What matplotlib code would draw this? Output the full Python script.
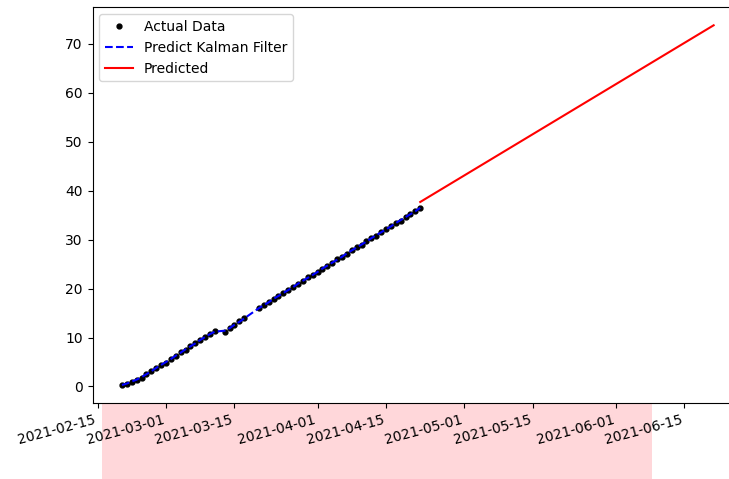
import numpy as np
import pandas as pd
import matplotlib
matplotlib.use('Agg')
import matplotlib.pyplot as plt
from matplotlib.patches import Rectangle

# daily observations, NaN where no reading was taken
actual_dates = pd.date_range('2021-02-20', '2021-04-22', freq='D')
actual_values = [
    0.3, 0.6, 1.0, 1.4, 1.8, 2.5, 3.2, 3.8, 4.4, 4.9,
    5.6, 6.3, 7.0, 7.5, 8.2, 8.8, 9.4, 10.1, 10.8, 11.3,
    np.nan, 11.1, 11.9, 12.6, 13.3, 13.9, np.nan, np.nan,
    16.0, 16.6, 17.3, 17.9, 18.4, 19.1, 19.8, 20.3, 21.0, 21.6,
    22.3, 22.8, 23.4, 24.1, 24.6, 25.3, 26.0, 26.5, 27.1, 27.8,
    28.4, 29.0, 29.7, 30.3, 30.8, 31.5, 32.1, 32.8, 33.4, 33.9,
    34.6, 35.3, 35.8, 36.5,
]

# kalman filter estimate over the same days
kalman_values = [
    0.3, 0.6, 1.0, 1.4, 1.9, 2.5, 3.1, 3.8, 4.4, 5.0,
    5.6, 6.3, 6.9, 7.6, 8.2, 8.8, 9.5, 10.1, 10.7, 11.2,
    11.3, 11.4, 11.9, 12.6, 13.2, 13.9, 14.6, 15.3,
    16.0, 16.6, 17.2, 17.9, 18.5, 19.1, 19.7, 20.3, 21.0, 21.6,
    22.2, 22.8, 23.4, 24.1, 24.7, 25.3, 25.9, 26.5, 27.2, 27.8,
    28.4, 29.0, 29.6, 30.3, 30.9, 31.5, 32.1, 32.7, 33.4, 34.0,
    34.6, 35.2, 35.8, 36.5,
]

pred_dates = pd.to_datetime(['2021-04-22', '2021-06-21'])
pred_values = [37.7, 73.8]

fig = plt.figure(figsize=(7.29, 4.79), dpi=100)
# axes run a little past the right edge of the canvas
ax = fig.add_axes([92.5 / 729, 76 / 479, (744 - 92.5) / 729, (403 - 7.3) / 479])
ax.spines['right'].set_visible(False)

# highlighted strip under the date labels
fig.patches.append(Rectangle((102 / 729, 0), 550 / 729, 76 / 479,
                             transform=fig.transFigure, facecolor='#ffd7da',
                             edgecolor='none', zorder=-1))

ax.plot(actual_dates, actual_values, 'k.', markersize=7, label='Actual Data')
ax.plot(actual_dates, kalman_values, 'b--', label='Predict Kalman Filter')
ax.plot(pred_dates, pred_values, 'r-', label='Predicted')

# 4.89 px per day, 2021-02-15 sits 5 px right of the left spine
ax.set_xlim(pd.Timestamp('2021-02-15') - pd.Timedelta(days=5 / 4.89),
            pd.Timestamp('2021-02-15') + pd.Timedelta(days=(744 - 97.5) / 4.89))

plt.setp(ax.get_xticklabels(), rotation=15, ha='right')
ax.legend(loc='upper left')

fig.savefig('out.png', dpi=100)
